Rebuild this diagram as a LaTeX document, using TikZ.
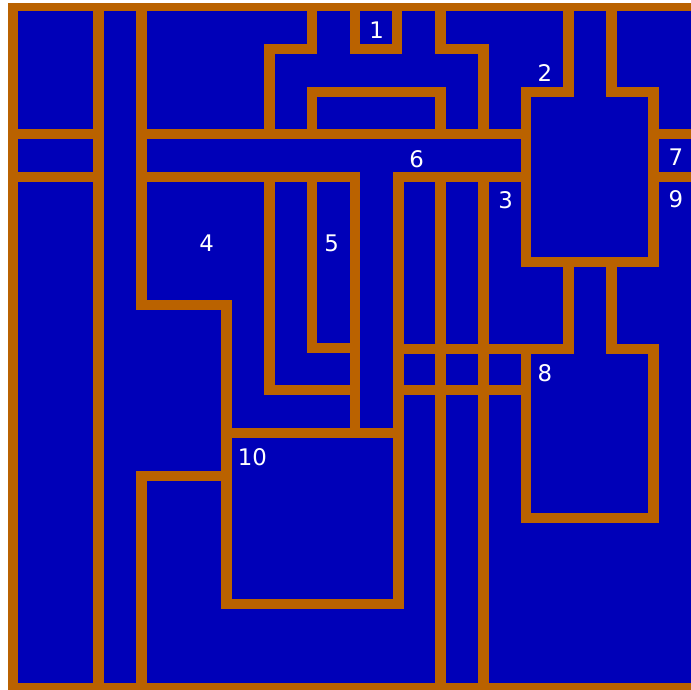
\documentclass[tikz,border=0pt]{standalone}
\usepackage{fontspec}
\setsansfont{DejaVu Sans}
\usepackage{xcolor}
\usepackage{tikz}
\definecolor{mapblue}{RGB}{0,0,184}
\definecolor{mapwall}{RGB}{186,98,0}

\begin{document}
\begin{tikzpicture}[
      x=0.2mm, y=-0.2mm,
      wall/.style={draw=mapwall, line width=2.1mm, line join=miter, line cap=rect},
      num/.style={text=white, font=\sffamily\fontsize{13}{13}\selectfont, inner sep=0pt}
    ]
      \useasboundingbox (0,0) rectangle (691,690);
      \fill[mapblue] (8,4) rectangle (691,690);
      \begin{scope}
        \clip (8,4) rectangle (691,690);
        \draw[wall] (13,700) -- (13,6) -- (700,6);
        \draw[wall] (13,688.5) -- (700,688.5);
        \draw[wall] (13,134) -- (98.7,134);
        \draw[wall] (13,177) -- (98.7,177);
        \draw[wall] (98.7,6) -- (98.7,688.5);
        \draw[wall] (141.3,6) -- (141.3,305) -- (226.7,305) -- (226.7,604) -- (398.3,604) -- (398.3,177) -- (526,177);
        \draw[wall] (141.3,134) -- (526,134);
        \draw[wall] (141.3,177) -- (355,177) -- (355,433);
        \draw[wall] (226.7,433) -- (398.3,433);
        \draw[wall] (269.7,177) -- (269.7,390) -- (355,390);
        \draw[wall] (312,177) -- (312,348) -- (355,348);
        \draw[wall] (141.3,688.5) -- (141.3,476) -- (226.7,476);
        \draw[wall] (312,6) -- (312,49) -- (269.7,49) -- (269.7,134);
        \draw[wall] (312,134) -- (312,92) -- (440.7,92) -- (440.7,134);
        \draw[wall] (355,6) -- (355,49) -- (397,49) -- (397,6);
        \draw[wall] (440.7,6) -- (440.7,49) -- (483.3,49) -- (483.3,134);
        \draw[wall] (568.3,6) -- (568.3,92) -- (526,92) -- (526,262) -- (653.5,262) -- (653.5,92) -- (611.7,92) -- (611.7,6);
        \draw[wall] (653.5,134) -- (700,134);
        \draw[wall] (653.5,177) -- (700,177);
        \draw[wall] (568.3,262) -- (568.3,349) -- (398.3,349);
        \draw[wall] (611.7,262) -- (611.7,349) -- (653.5,349) -- (653.5,518) -- (526,518) -- (526,349);
        \draw[wall] (398.3,390) -- (526,390);
        \draw[wall] (440.7,177) -- (440.7,688.5);
        \draw[wall] (483.3,177) -- (483.3,688.5);
      \end{scope}
      \node[num] (r1) at (376.7,30) {1};
      \node[num] (r2) at (545,73) {2};
      \node[num] (r3) at (505.7,200) {3};
      \node[num] (r4) at (206.7,243) {4};
      \node[num] (r5) at (331.7,243) {5};
      \node[num] (r6) at (416.7,159) {6};
      \node[num] (r7) at (676,157) {7};
      \node[num] (r8) at (545,373) {8};
      \node[num] (r9) at (676,199) {9};
      \node[num] (r10) at (252.3,457) {10};
    \end{tikzpicture}
\end{document}
